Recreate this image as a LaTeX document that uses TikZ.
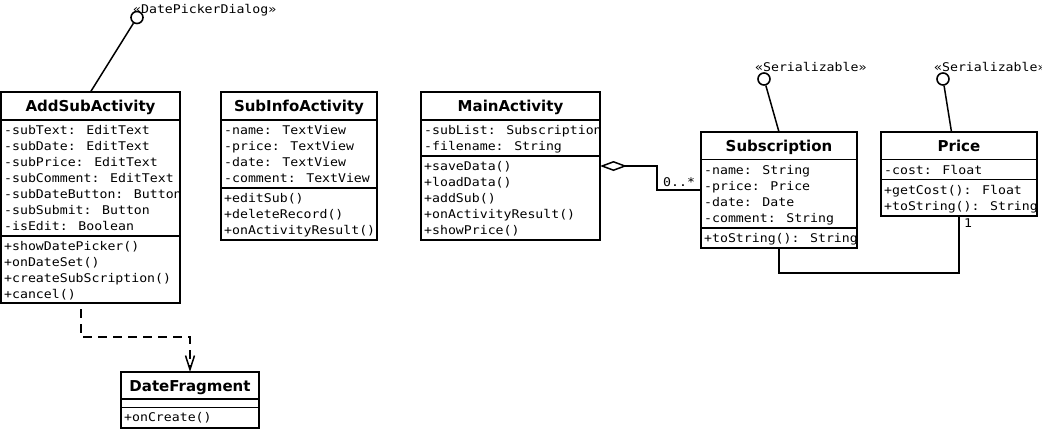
\documentclass[tikz,border=0pt]{standalone}
\usepackage{fontspec}
\setmainfont{DejaVu Sans}
\newfontfamily\umlmono[FakeStretch=1.1]{DejaVu Sans Mono}
\usetikzlibrary{arrows.meta,calc}
\newcommand\umlrows[4]{\foreach \t [count=\i] in {#4} {\node[mem] (#1-\i) at (#2,{#3+16*(\i-1)}) {\t};}}
\begin{document}
\begin{tikzpicture}[x=1pt,y=-1pt,
  box/.style={draw,line width=1.6pt,anchor=north west,inner sep=0,outer sep=0},
  sep/.style={line width=1.6pt},
  ttl/.style={anchor=base,inner sep=0,font=\fontsize{15}{18}\selectfont\bfseries},
  mem/.style={anchor=base west,inner sep=0,font=\umlmono\fontsize{12}{16}\selectfont},
  lolli/.style={draw,circle,line width=1.6pt,fill=white,minimum size=12pt,inner sep=0},
  conn/.style={line width=1.5pt}]
\useasboundingbox (0,0) rectangle (1042,429);

% AddSubActivity
\node[box,minimum width=179pt,minimum height=211pt] (add) at (1,92) {};
\draw[sep] (add.west |- 0,120) -- (add.east |- 0,120);
\draw[sep] (add.west |- 0,236) -- (add.east |- 0,236);
\node[ttl] (add-t) at (90.5,111.5) {AddSubActivity};
\umlrows{adda}{4}{134}{-subText: EditText,-subDate: EditText,-subPrice: EditText,-subComment: EditText,-subDateButton: Button,-subSubmit: Button,-isEdit: Boolean}
\umlrows{addm}{4}{250}{+showDatePicker(),+onDateSet(),+createSubScription(),+cancel()}

% SubInfoActivity
\node[box,minimum width=156pt,minimum height=148pt] (info) at (221,92) {};
\draw[sep] (info.west |- 0,120) -- (info.east |- 0,120);
\draw[sep] (info.west |- 0,188) -- (info.east |- 0,188);
\node[ttl] (info-t) at (299,111.5) {SubInfoActivity};
\umlrows{infoa}{224}{134}{-name: TextView,-price: TextView,-date: TextView,-comment: TextView}
\umlrows{infom}{224}{202}{+editSub(),+deleteRecord(),+onActivityResult()}

% MainActivity
\node[box,minimum width=179pt,minimum height=148pt] (main) at (421,92) {};
\draw[sep] (main.west |- 0,120) -- (main.east |- 0,120);
\draw[sep] (main.west |- 0,156) -- (main.east |- 0,156);
\node[ttl] (main-t) at (510.5,111.5) {MainActivity};
\umlrows{maina}{424}{134}{-subList: Subscription,-filename: String}
\umlrows{mainm}{424}{170}{+saveData(),+loadData(),+addSub(),+onActivityResult(),+showPrice()}

% Subscription
\node[box,minimum width=156pt,minimum height=116pt] (sub) at (701,132) {};
\draw[sep] (sub.west |- 0,159.5) -- (sub.east |- 0,159.5);
\draw[sep] (sub.west |- 0,228) -- (sub.east |- 0,228);
\node[ttl] (sub-t) at (779,151.5) {Subscription};
\umlrows{suba}{704}{174}{-name: String,-price: Price,-date: Date,-comment: String}
\umlrows{subm}{704}{242}{+toString(): String}

% Price
\node[box,minimum width=156pt,minimum height=84pt] (price) at (881,132) {};
\draw[sep] (price.west |- 0,159.5) -- (price.east |- 0,159.5);
\draw[sep] (price.west |- 0,179.5) -- (price.east |- 0,179.5);
\node[ttl] (price-t) at (959,151.5) {Price};
\umlrows{pricea}{884}{174}{-cost: Float}
\umlrows{pricem}{884}{194}{+getCost(): Float,+toString(): String}

% DateFragment
\node[box,minimum width=138pt,minimum height=56pt] (df) at (121,372) {};
\draw[sep] (df.west |- 0,399) -- (df.east |- 0,399);
\draw[sep] (df.west |- 0,407.5) -- (df.east |- 0,407.5);
\node[ttl] (df-t) at (190,391.5) {DateFragment};
\umlrows{dfm}{124}{421.5}{+onCreate()}

% lollipop interfaces
\node[lolli] (dpd) at (137,17.5) {};
\node[lolli] (ser1) at (764,79) {};
\node[lolli] (ser2) at (943,79) {};
\node[mem] (dpd-l) at (133,13) {«DatePickerDialog»};
\node[mem] (ser1-l) at (755,71.5) {«Serializable»};
\node[mem] (ser2-l) at (934,71.5) {«Serializable»};
\draw[conn] (add.north) -- (dpd);
\draw[conn] (sub.north) -- (ser1);
\coordinate (price-top) at ($(price.north)+(-7.5,0)$);
\draw[conn] (price-top) -- (ser2);

% aggregation MainActivity <>-- Subscription
\draw[conn,{Diamond[open,length=27pt,width=10pt,line width=1.5pt]}-] (main.east) -- ++(57,0) |- (sub.west);
\node[mem] (agg-m) at (663,186) {0..*};

% association Subscription -- Price
\draw[conn] (sub.south) -- ++(0,25) -| (price.south);
\node[mem] (assoc-m) at (964,227) {1};

% dependency AddSubActivity ..> DateFragment
\coordinate (dep-s) at ($(add.south west)+(80,0)$);
\draw[conn,dash pattern=on 9pt off 6pt,dash phase=9pt,-{Straight Barb[length=14pt,width=9pt,line width=1.5pt]}] (dep-s) |- ($(df.north)+(0,-35)$) -- (df.north);
\end{tikzpicture}
\end{document}
